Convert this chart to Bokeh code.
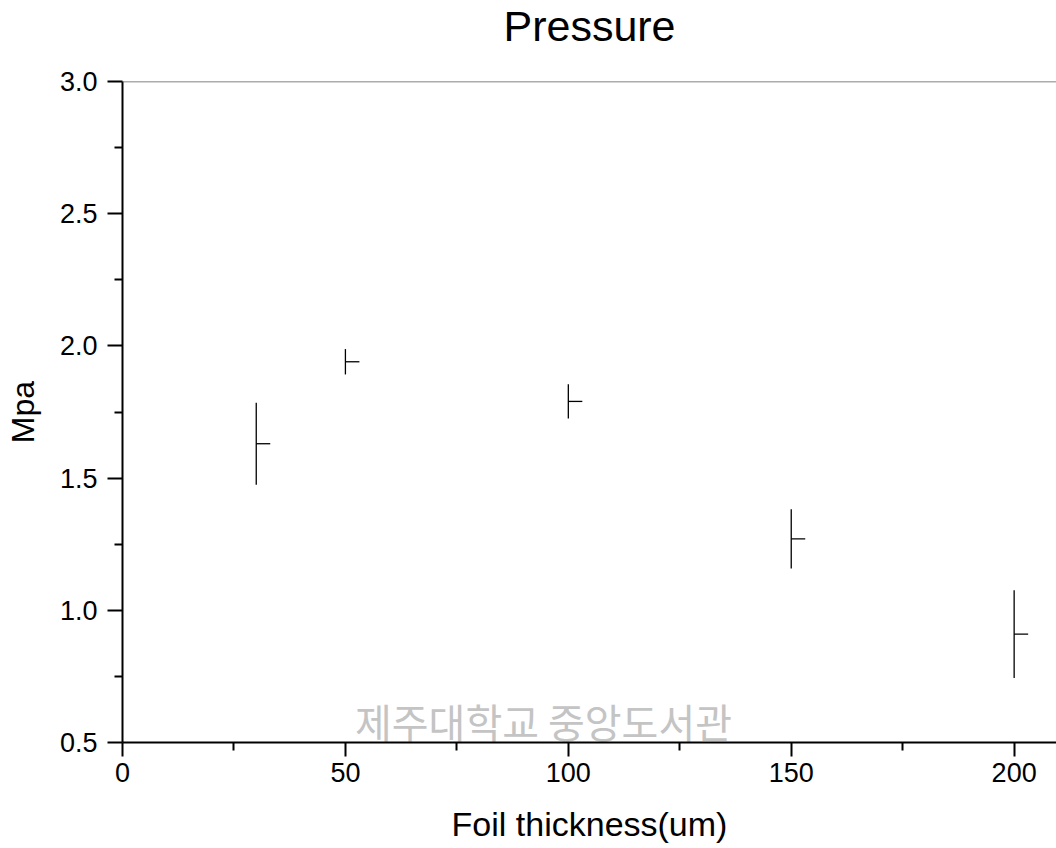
from bokeh.plotting import figure
from bokeh.models import (Range1d, Span, Label, Title, FixedTicker,
                          PrintfTickFormatter)
from bokeh.embed import file_html
from bokeh.resources import INLINE

# Measured pressure vs. foil thickness (mean and +/- spread)
thickness_um = [30, 50, 100, 150, 200]
pressure_mpa = [1.63, 1.94, 1.79, 1.27, 0.91]
spread_mpa = [0.155, 0.048, 0.065, 0.112, 0.166]

x_ticks = [0, 50, 100, 150, 200]
y_ticks = [0.5, 1.0, 1.5, 2.0, 2.5, 3.0]

lower = [p - s for p, s in zip(pressure_mpa, spread_mpa)]
upper = [p + s for p, s in zip(pressure_mpa, spread_mpa)]

FONT = "Liberation Sans"

p = figure(
    width=1056, height=848,
    x_range=Range1d(0, 209.5), y_range=Range1d(0.5, 3.0),
    output_backend="svg", toolbar_location=None,
    min_border_left=122, min_border_right=0,
    min_border_top=80, min_border_bottom=106,
    title="Pressure",
)
p.background_fill_color = "white"
p.border_fill_color = "white"
p.outline_line_color = None
p.grid.visible = False

p.title.text_font = FONT
p.title.text_font_size = "43px"
p.title.text_font_style = "normal"
p.title.align = "center"
p.title.vertical_align = "top"
p.title.text_color = "black"
p.title.standoff = 2

# blank band between the title and the frame
p.add_layout(Title(text=" ", text_font=FONT, text_font_size="24px",
                   standoff=0), "above")

# axes
for ax in (p.xaxis[0], p.yaxis[0]):
    ax.axis_line_width = 2
    ax.axis_line_color = "black"
    ax.major_tick_line_width = 2
    ax.minor_tick_line_width = 2
    ax.major_tick_line_color = "black"
    ax.minor_tick_line_color = "black"
    ax.major_tick_in = 0
    ax.minor_tick_in = 0
    ax.major_label_text_font = FONT
    ax.major_label_text_font_size = "27px"
    ax.major_label_text_color = "black"
    ax.axis_label_text_font = FONT
    ax.axis_label_text_font_style = "normal"
    ax.axis_label_text_color = "black"

p.xaxis.axis_label_text_font_size = "34px"
p.yaxis.axis_label_text_font_size = "32px"
p.xaxis.ticker = FixedTicker(ticks=x_ticks, minor_ticks=[25, 75, 125, 175])
p.yaxis.ticker = FixedTicker(ticks=y_ticks,
                             minor_ticks=[0.75, 1.25, 1.75, 2.25, 2.75])
p.yaxis.formatter = PrintfTickFormatter(format="%.1f")
p.xaxis.major_tick_out = 14
p.xaxis.minor_tick_out = 8
p.yaxis.major_tick_out = 15
p.yaxis.minor_tick_out = 8
p.xaxis.major_label_standoff = 6
p.yaxis.major_label_standoff = 10
p.xaxis.axis_label = "Foil thickness(um)"
p.yaxis.axis_label = "Mpa"
p.xaxis.axis_label_standoff = 20
p.yaxis.axis_label_standoff = 16

# thin grey line along the top of the frame
p.add_layout(Span(location=3.0, dimension="width",
                  line_color="#5a5a5a", line_width=1.5))

# library watermark (position in frame pixels)
p.add_layout(Label(x=421, y=22, x_units="screen", y_units="screen",
                   text="제주대학교 중앙도서관",
                   text_font="Noto Sans CJK KR", text_font_size="40px",
                   text_color="#c4c4c4", text_align="center",
                   text_baseline="middle", level="underlay"))

# error bars and point markers
p.segment(x0=thickness_um, y0=lower, x1=thickness_um, y1=upper,
          line_color="black", line_width=1.3)
p.ray(x=thickness_um, y=pressure_mpa, length=14, length_units="screen",
      angle=0, line_color="black", line_width=1.3)

open("out.html", "w").write(file_html(p, INLINE))
